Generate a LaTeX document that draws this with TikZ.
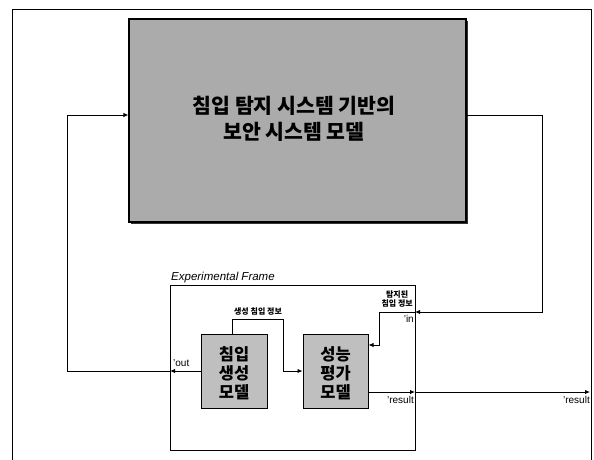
\documentclass[tikz,border=0pt]{standalone}
\usepackage{fontspec}
\setmainfont{Liberation Sans}
\newfontfamily\kr{Noto Sans CJK KR}
\usetikzlibrary{arrows.meta}
\begin{document}
\begin{tikzpicture}[x=1pt,y=-1pt,
  line/.style={draw=black, line width=0.9pt},
  arr/.style={line, -{Latex[length=5pt,width=4.5pt]}},
  modbox/.style={draw=black, line width=1pt, fill=black!25, inner sep=0pt},
  port/.style={font=\fontsize{10}{11}\selectfont, inner sep=0pt},
  small/.style={font=\kr\bfseries\fontsize{8}{9.5}\selectfont, inner sep=0pt, align=center}
]
\useasboundingbox (0,0) rectangle (594,459);
% outer frame
\draw[line width=1pt] (12.5,462) -- (12.5,9) -- (591.5,9) -- (591.5,462);
% big system box
\fill[black!80] (130.5,20.5) rectangle (467.5,223.5);
\node[modbox, fill=black!33, minimum width=337pt, minimum height=203pt, line width=1.2pt] (sys) at (297.5,120.5) {};
\node[font=\kr\bfseries\fontsize{20.5}{26}\selectfont, align=center, inner sep=0pt] (systxt) at (294,119)
  {침입 탐지 시스템 기반의\\보안 시스템 모델};
% experimental frame
\node[draw=black, line width=1pt, minimum width=245pt, minimum height=165pt, inner sep=0pt] (ef) at (292.5,367.5) {};
\node[font=\itshape\fontsize{11.5}{13}\selectfont, anchor=south west, inner sep=0pt] (eftitle) at (171,283) {Experimental Frame};
% inner models
\node[modbox, minimum width=66pt, minimum height=74pt] (gen) at (234,371) {};
\node[font=\kr\bfseries\fontsize{16.5}{19}\selectfont, align=center, inner sep=0pt] (gentxt) at (234,373) {침입\\생성\\모델};
\node[modbox, minimum width=65pt, minimum height=74pt] (eval) at (335.5,371) {};
\node[font=\kr\bfseries\fontsize{16.5}{19}\selectfont, align=center, inner sep=0pt] (evaltxt) at (335.5,373) {성능\\평가\\모델};
% ports
\coordinate (outp) at (170,371);
\coordinate (inp) at (415,312);
\coordinate (resp) at (415,392);
\coordinate (resout) at (590,392);
% out path
\draw[arr] (gen.west |- outp) -- (outp);
\draw[arr] (outp) -- (67,371) -- (67,115) -- (sys.west |- 0,115);
% in path
\draw[arr] (sys.east |- 0,115) -- (542,115) -- (542,312) -- (inp);
\draw[arr] (inp) -- (379,312) -- (379,345) -- (eval.east |- 0,345);
% gen -> eval
\draw[arr] (232,334) -- (232,319) -- (283,319) -- (283,371) -- (eval.west |- 0,371);
% result
\draw[arr] (eval.east |- resp) -- (resp);
\draw[arr] (resp) -- (resout);
% labels
\node[small] (lgen) at (258,311.5) {생성 침입 정보};
\node[small, anchor=south east] (ldet) at (413,307.5) {탐지된\\침입 정보};
\node[port, anchor=north east] (lin) at (414,315) {'in};
\node[port, anchor=south west] (lout) at (173,367) {'out};
\node[port, anchor=north east] (lres1) at (414,396) {'result};
\node[port, anchor=north east] (lres2) at (590,396) {'result};
\end{tikzpicture}
\end{document}
